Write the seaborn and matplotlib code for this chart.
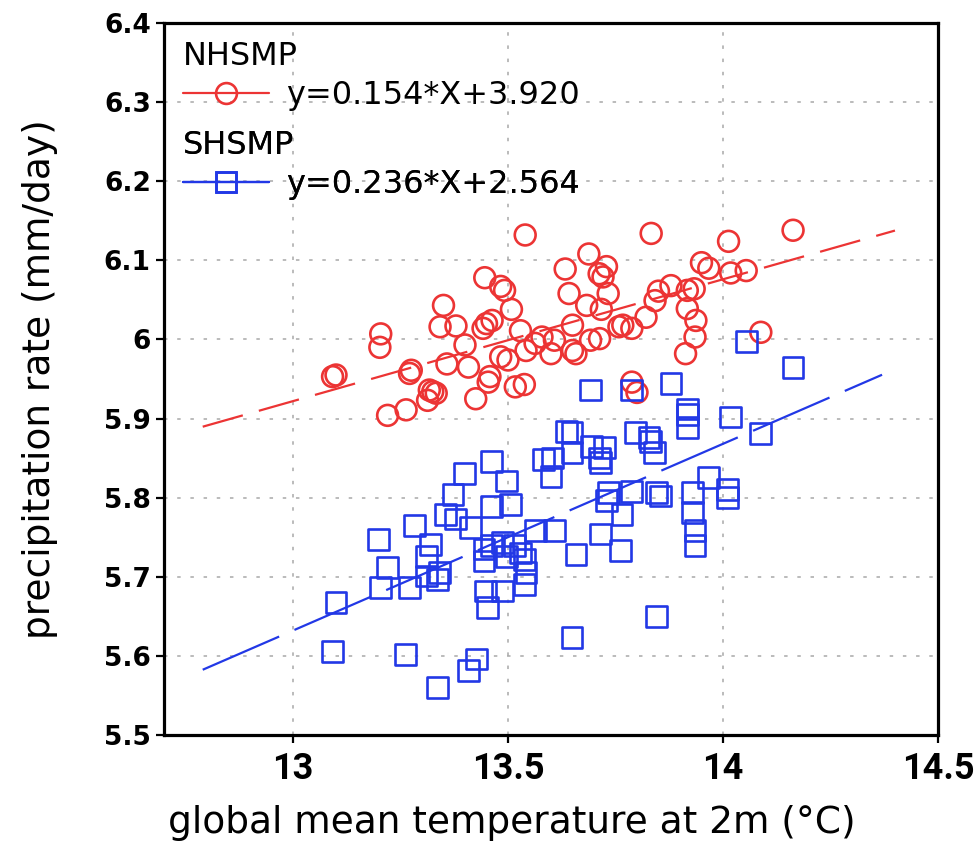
import numpy as np
import pandas as pd
import matplotlib
matplotlib.use("Agg")
import matplotlib.pyplot as plt
from matplotlib.lines import Line2D
import seaborn as sns

# Northern-hemisphere summer monsoon precipitation vs. global mean T2m
nh_temp = [13.540, 13.833, 14.013, 14.163, 13.688, 13.633, 13.729, 13.721, 13.712, 13.950,
           13.967, 14.018, 14.054, 13.446, 13.483, 13.492, 13.642, 13.733, 13.508, 13.683,
           13.717, 13.850, 13.879, 13.842, 13.917, 13.933, 13.821, 13.917, 13.937, 13.935,
           13.913, 14.088, 13.350, 13.342, 13.379, 13.450, 13.463, 13.442, 13.204, 13.202,
           13.400, 13.408, 13.529, 13.579, 13.608, 13.563, 13.650, 13.650, 13.658, 13.692,
           13.713, 13.767, 13.788, 13.758, 13.600, 13.542, 13.483, 13.500, 13.092, 13.100,
           13.275, 13.271, 13.358, 13.458, 13.454, 13.317, 13.325, 13.333, 13.313, 13.425,
           13.517, 13.538, 13.220, 13.263, 13.788, 13.800]
nh_prcp = [6.132, 6.134, 6.124, 6.138, 6.108, 6.089, 6.092, 6.079, 6.083, 6.097,
           6.090, 6.084, 6.087, 6.078, 6.067, 6.062, 6.058, 6.058, 6.038, 6.043,
           6.038, 6.061, 6.068, 6.049, 6.062, 6.064, 6.028, 6.039, 6.024, 6.003,
           5.982, 6.009, 6.043, 6.016, 6.017, 6.020, 6.024, 6.014, 6.007, 5.990,
           5.993, 5.965, 6.011, 6.003, 5.999, 5.995, 6.018, 5.986, 5.982, 5.999,
           6.001, 6.018, 6.014, 6.016, 5.982, 5.986, 5.978, 5.974, 5.953, 5.955,
           5.961, 5.957, 5.969, 5.953, 5.946, 5.936, 5.934, 5.932, 5.923, 5.925,
           5.940, 5.943, 5.904, 5.911, 5.946, 5.933]

# Southern-hemisphere summer monsoon precipitation vs. global mean T2m
sh_temp = [14.054, 14.163, 13.692, 13.788, 13.879, 13.917, 13.917, 13.917, 14.017, 14.088,
           13.636, 13.649, 13.796, 13.828, 13.832, 13.841, 13.694, 13.725, 13.712, 13.716,
           13.582, 13.604, 13.649, 13.462, 13.399, 13.600, 13.497, 13.372, 13.462, 13.506,
           13.354, 13.377, 13.413, 13.283, 13.198, 13.319, 13.310, 13.220, 13.203, 13.270,
           13.310, 13.337, 13.341, 13.444, 13.462, 13.488, 13.515, 13.529, 13.538, 13.542,
           13.538, 13.444, 13.497, 13.564, 13.609, 13.448, 13.488, 13.453, 13.716, 13.734,
           13.730, 13.765, 13.788, 13.658, 13.761, 13.846, 13.854, 13.930, 13.966, 14.011,
           14.011, 13.930, 13.935, 13.935, 13.100, 13.091, 13.261, 13.426, 13.408, 13.337,
           13.649, 13.846]
sh_prcp = [5.997, 5.964, 5.936, 5.936, 5.944, 5.912, 5.905, 5.889, 5.902, 5.881,
           5.884, 5.882, 5.882, 5.876, 5.871, 5.857, 5.865, 5.863, 5.850, 5.844,
           5.848, 5.850, 5.857, 5.846, 5.831, 5.827, 5.821, 5.804, 5.789, 5.791,
           5.779, 5.773, 5.762, 5.765, 5.747, 5.741, 5.726, 5.712, 5.686, 5.686,
           5.701, 5.697, 5.705, 5.735, 5.739, 5.743, 5.739, 5.730, 5.722, 5.705,
           5.690, 5.720, 5.726, 5.758, 5.758, 5.682, 5.682, 5.661, 5.754, 5.806,
           5.796, 5.779, 5.808, 5.728, 5.733, 5.806, 5.802, 5.806, 5.825, 5.810,
           5.800, 5.781, 5.758, 5.739, 5.667, 5.606, 5.602, 5.596, 5.581, 5.560,
           5.623, 5.650]

# Linear fits (slope, intercept) and the temperature span each fit line covers
nh_fit = (0.154, 3.920)
sh_fit = (0.236, 2.564)
nh_fit_span = (12.79, 14.40)
sh_fit_span = (12.79, 14.37)

series_names = ["NHSMP", "SHSMP"]
x_ticks = [13.0, 13.5, 14.0, 14.5]
x_tick_labels = ["13", "13.5", "14", "14.5"]
y_ticks = [5.5, 5.6, 5.7, 5.8, 5.9, 6.0, 6.1, 6.2, 6.3, 6.4]
y_tick_labels = ["5.5", "5.6", "5.7", "5.8", "5.9", "6", "6.1", "6.2", "6.3", "6.4"]

RED = "#ec3434"
BLUE = "#2238e6"

sns.set_style("white")
plt.rcParams["font.family"] = ["DejaVu Sans"]
plt.rcParams["lines.scale_dashes"] = False
for key in ("text.color", "axes.labelcolor", "xtick.color", "ytick.color"):
    plt.rcParams[key] = "black"

points = pd.concat([
    pd.DataFrame({"temp": nh_temp, "prcp": nh_prcp, "group": series_names[0]}),
    pd.DataFrame({"temp": sh_temp, "prcp": sh_prcp, "group": series_names[1]}),
], ignore_index=True)

fig = plt.figure(figsize=(9.74, 8.48), dpi=100)
ax = fig.add_axes([0.1684, 0.1333, 0.7946, 0.8396])

ax.grid(True, color="#a8a8a8", linestyle=(0, (2.5, 7)), linewidth=1.1)
ax.set_axisbelow(True)

styles = [("o", RED, nh_fit, nh_fit_span, (30, 12)),
          ("s", BLUE, sh_fit, sh_fit_span, (60, 12))]
for name, (marker, color, (slope, icpt), (lo, hi), dash) in zip(series_names, styles):
    sub = points[points["group"] == name]
    sns.scatterplot(data=sub, x="temp", y="prcp", marker=marker, s=225,
                    color=color, facecolor="none", edgecolor=color,
                    linewidth=1.9, ax=ax, legend=False, zorder=3)
    fx = np.array([lo, hi])
    sns.lineplot(x=fx, y=slope * fx + icpt, color=color, linewidth=1.6,
                 linestyle=(0, dash), ax=ax, legend=False, zorder=2)

ax.set_xlim(12.7, 14.5)
ax.set_ylim(5.5, 6.4)
ax.set_xticks(x_ticks)
ax.set_xticklabels(x_tick_labels, fontsize=26, fontweight="bold",
                   family=["Roboto", "DejaVu Sans"])
ax.set_yticks(y_ticks)
ax.set_yticklabels(y_tick_labels, fontsize=19, fontweight="bold")
ax.tick_params(axis="both", direction="out", length=5.5, width=1.6, color="black",
               left=True, bottom=True, right=False, top=False)
ax.tick_params(axis="x", pad=6)
ax.tick_params(axis="y", pad=4)
for sp in ax.spines.values():
    sp.set_visible(True)
    sp.set_color("black")
    sp.set_linewidth(2.3)

ax.set_xlabel("global mean temperature at 2m (\u00b0C)", fontsize=27)
ax.set_ylabel("precipitation rate (mm/day)", fontsize=27)
ax.xaxis.set_label_coords(0.45, -0.098)
ax.yaxis.set_label_coords(-0.137, 0.5)

# Legend: one block per series, series name as the block title
def fit_label(slope, icpt):
    return f"y={slope:.3f}*X+{icpt:.3f}"

anchors = [(0.024, 0.975), (0.024, 0.850)]
for name, (marker, color, (slope, icpt), _, _), anchor in zip(series_names, styles, anchors):
    handle = Line2D([], [], color=color, linewidth=1.6, marker=marker, markersize=15,
                    markerfacecolor="none", markeredgecolor=color, markeredgewidth=1.9)
    leg = ax.legend([handle], [fit_label(slope, icpt)], title=name, loc="upper left",
                    bbox_to_anchor=anchor, frameon=False, fontsize=23, title_fontsize=23,
                    alignment="left", handlelength=2.7, handletextpad=0.55,
                    borderpad=0, borderaxespad=0, labelspacing=0.25, numpoints=1)
    ax.add_artist(leg)

fig.savefig("out.png", dpi=100, facecolor="white")
